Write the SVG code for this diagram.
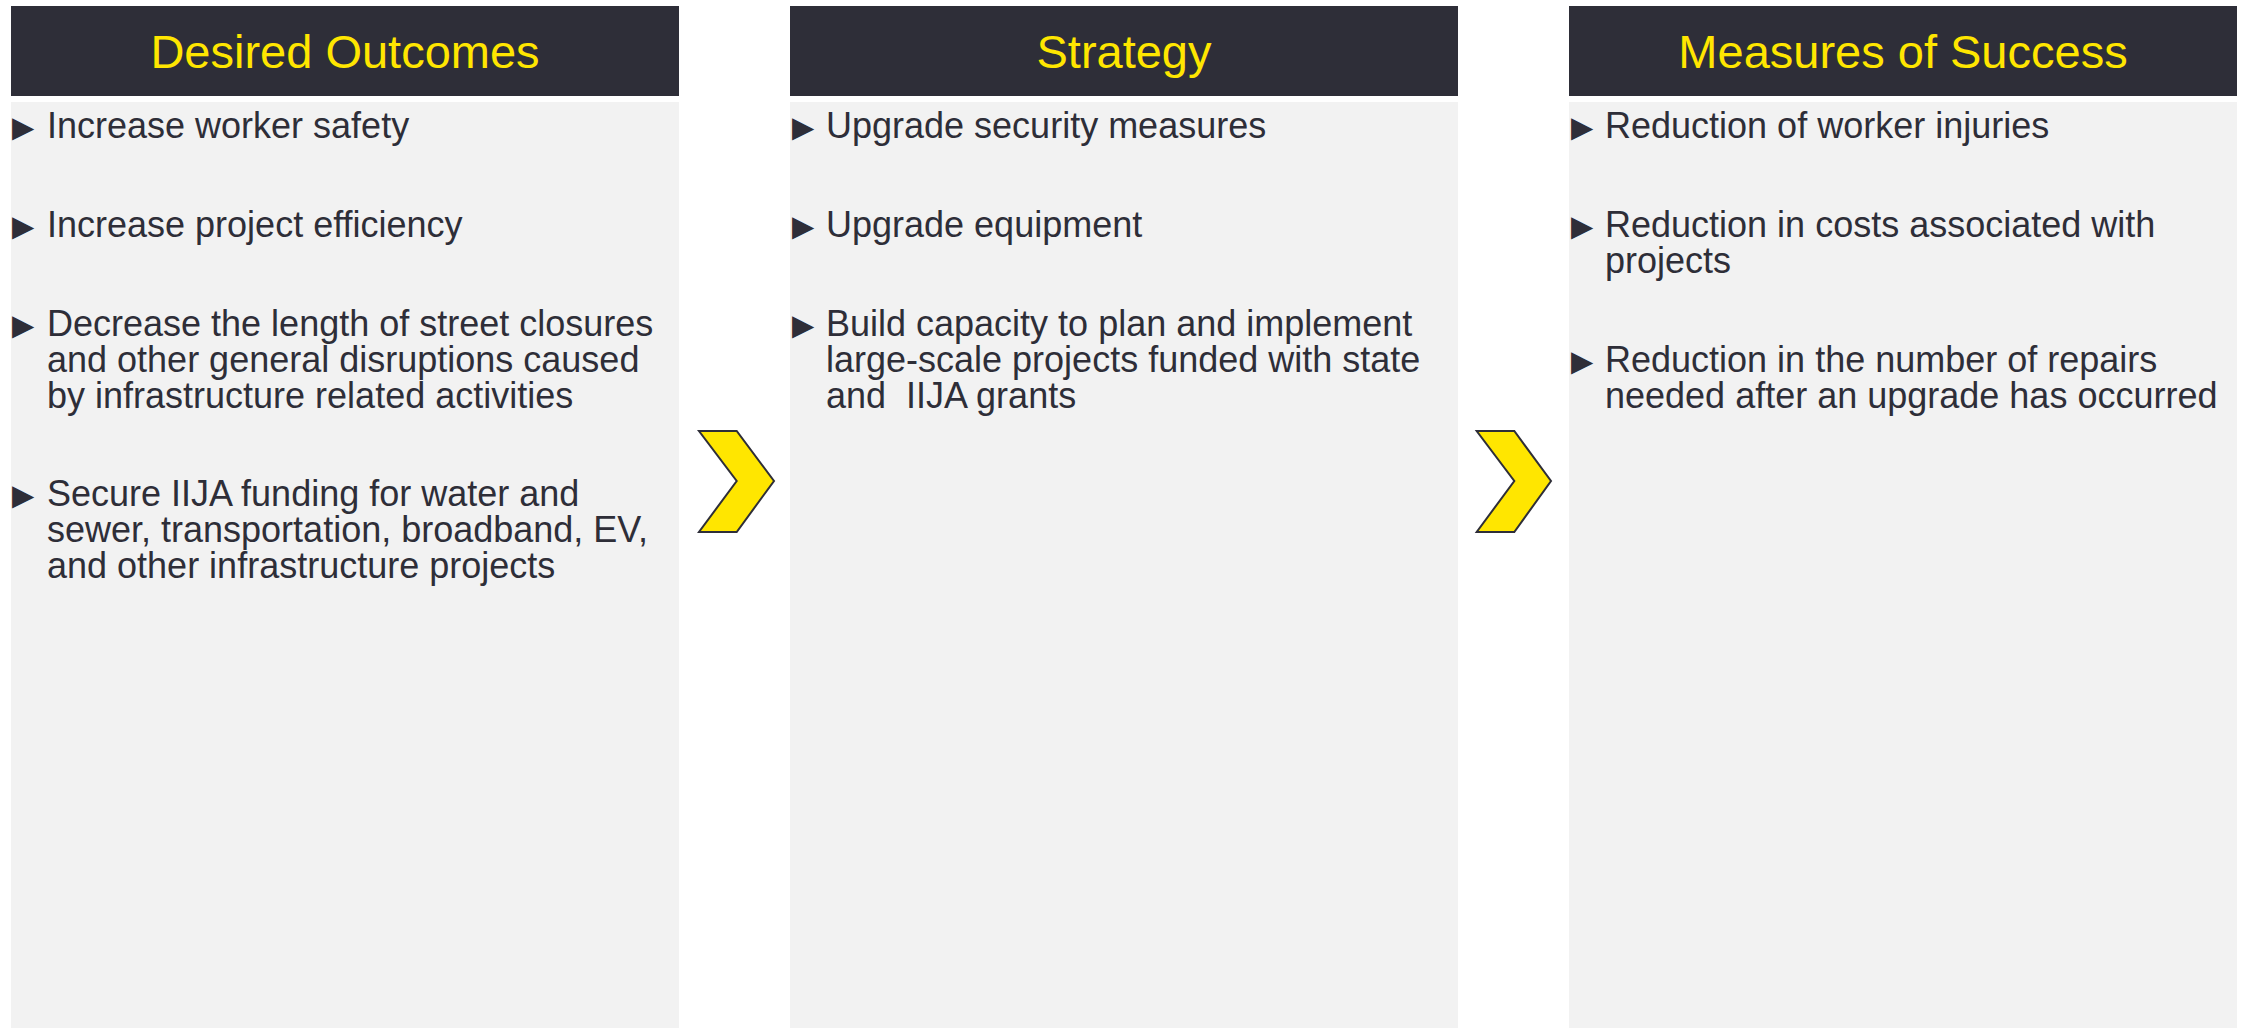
<svg xmlns="http://www.w3.org/2000/svg" width="2247" height="1028" viewBox="0 0 2247 1028">
<style>
.hdr{fill:#2E2E38}
.body{fill:#F2F2F2}
.title{font-family:"Liberation Sans",Arial,sans-serif;font-size:47px;fill:#FFE600;text-anchor:middle}
.txt{font-family:"Liberation Sans",Arial,sans-serif;font-size:36px;fill:#2E2E38}
.bul{font-family:"DejaVu Sans",sans-serif;font-size:29px;fill:#2E2E38}
.chev{fill:#FFE600;stroke:#2E2E38;stroke-width:2;stroke-linejoin:miter}
</style>
<rect width="2247" height="1028" fill="#FFFFFF"/>
<g id="desired-outcomes">
<rect class="hdr" x="11" y="6" width="668" height="90"/>
<rect class="body" x="11" y="102" width="668" height="926"/>
<text class="title" x="345" y="68">Desired Outcomes</text>
<text class="bul" x="12" y="137">▶</text>
<text class="txt" x="47" y="138">Increase worker safety</text>
<text class="bul" x="12" y="236">▶</text>
<text class="txt" x="47" y="237">Increase project efficiency</text>
<text class="bul" x="12" y="335">▶</text>
<text class="txt" x="47" y="336">Decrease the length of street closures<tspan x="47" dy="36">and other general disruptions caused</tspan><tspan x="47" dy="36">by infrastructure related activities</tspan></text>
<text class="bul" x="12" y="505">▶</text>
<text class="txt" x="47" y="506">Secure IIJA funding for water and<tspan x="47" dy="36">sewer, transportation, broadband, EV,</tspan><tspan x="47" dy="36">and other infrastructure projects</tspan></text>
</g>
<g id="strategy">
<rect class="hdr" x="790" y="6" width="668" height="90"/>
<rect class="body" x="790" y="102" width="668" height="926"/>
<text class="title" x="1124" y="68">Strategy</text>
<text class="bul" x="792" y="137">▶</text>
<text class="txt" x="826" y="138">Upgrade security measures</text>
<text class="bul" x="792" y="236">▶</text>
<text class="txt" x="826" y="237">Upgrade equipment</text>
<text class="bul" x="792" y="335">▶</text>
<text class="txt" x="826" y="336" xml:space="preserve">Build capacity to plan and implement<tspan x="826" dy="36">large-scale projects funded with state</tspan><tspan x="826" dy="36">and  IIJA grants</tspan></text>
</g>
<g id="measures-of-success">
<rect class="hdr" x="1569" y="6" width="668" height="90"/>
<rect class="body" x="1569" y="102" width="668" height="926"/>
<text class="title" x="1903" y="68">Measures of Success</text>
<text class="bul" x="1571" y="137">▶</text>
<text class="txt" x="1605" y="138">Reduction of worker injuries</text>
<text class="bul" x="1571" y="236">▶</text>
<text class="txt" x="1605" y="237">Reduction in costs associated with<tspan x="1605" dy="36">projects</tspan></text>
<text class="bul" x="1571" y="371">▶</text>
<text class="txt" x="1605" y="372">Reduction in the number of repairs<tspan x="1605" dy="36">needed after an upgrade has occurred</tspan></text>
</g>
<g id="connectors">
<polygon class="chev" points="699,431 736.7,431 774,481 736.7,532 699,532 736.7,481"/>
<polygon class="chev" points="1476.7,431 1514.3,431 1551,481 1514.3,532 1476.7,532 1514.3,481"/>
</g>
</svg>
